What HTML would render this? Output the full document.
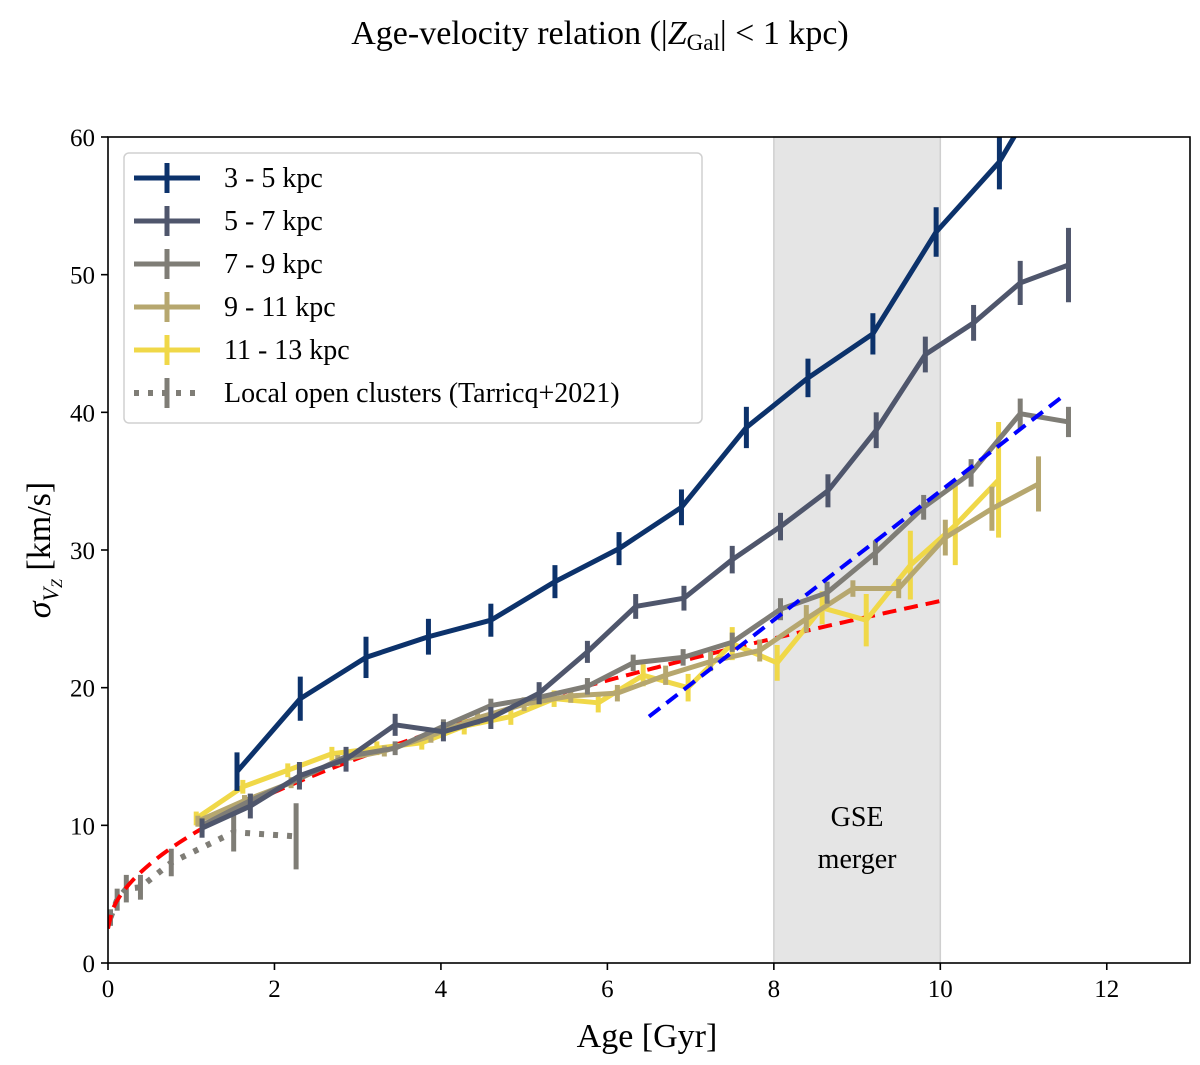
<!DOCTYPE html>
<html><head><meta charset="utf-8">
<style>
html,body{margin:0;padding:0;background:#fff;}
svg{display:block;font-family:"Liberation Serif","DejaVu Serif",serif;}
</style></head>
<body>
<svg id="chart" width="1200" height="1065" viewBox="0 0 1200 1065">
  <text x="600" y="44" text-anchor="middle" font-size="34">Age-velocity relation (|<tspan font-style="italic">Z</tspan><tspan font-size="23" dy="6">Gal</tspan><tspan dy="-6">| &lt; 1 kpc)</tspan></text>
  <defs><clipPath id="plotclip"><rect x="108" y="137" width="1082" height="826"/></clipPath></defs>
  <g id="bg"></g>
  <g id="marks" clip-path="url(#plotclip)"></g>
  <g id="axes"></g>
  <g id="legend"></g>
</svg>
<script>
// ---- data ----
const xTicks = [0, 2, 4, 6, 8, 10, 12];
const yTicks = [0, 10, 20, 30, 40, 50, 60];
const seriesNames = ["3 - 5 kpc", "5 - 7 kpc", "7 - 9 kpc", "9 - 11 kpc", "11 - 13 kpc"];
const seriesColors = ["#0c326b", "#4f566c", "#7f7d76", "#b6a76f", "#f0d848"];
const ageA = [1.55, 2.31, 3.10, 3.85, 4.60, 5.37, 6.14, 6.89, 7.67, 8.41, 9.19, 9.95, 10.71, 11.47];
const sigA = [13.9, 19.2, 22.2, 23.7, 24.9, 27.7, 30.1, 33.1, 38.9, 42.5, 45.7, 53.1, 58.2, 66.0];
const errA = [1.4, 1.6, 1.5, 1.3, 1.2, 1.2, 1.2, 1.3, 1.5, 1.4, 1.5, 1.8, 2.0, 2.2];
const ageB = [1.13, 1.71, 2.30, 2.86, 3.45, 4.03, 4.60, 5.18, 5.76, 6.34, 6.92, 7.50, 8.08, 8.65, 9.23, 9.82, 10.40, 10.96, 11.54];
const sigB = [9.8, 11.4, 13.6, 14.8, 17.3, 16.8, 17.8, 19.6, 22.6, 25.9, 26.5, 29.3, 31.7, 34.3, 38.7, 44.2, 46.5, 49.4, 50.7];
const errB = [0.7, 0.9, 1.0, 0.9, 0.8, 0.7, 0.8, 0.8, 0.8, 0.9, 0.9, 1.0, 1.0, 1.2, 1.3, 1.3, 1.3, 1.6, 2.7];
const ageC = [1.13, 1.71, 2.30, 2.86, 3.45, 4.03, 4.60, 5.18, 5.76, 6.31, 6.91, 7.50, 8.08, 8.64, 9.22, 9.80, 10.37, 10.96, 11.54];
const sigC = [10.0, 11.8, 13.4, 15.0, 15.6, 17.2, 18.7, 19.3, 20.1, 21.8, 22.2, 23.3, 25.7, 26.9, 29.8, 33.1, 35.6, 39.9, 39.3];
const errC = [0.5, 0.5, 0.5, 0.5, 0.5, 0.5, 0.5, 0.5, 0.6, 0.6, 0.6, 0.7, 0.8, 0.8, 0.9, 0.9, 1.0, 1.1, 1.1];
const ageD = [1.08, 1.64, 2.20, 2.76, 3.32, 3.88, 4.44, 5.00, 5.56, 6.12, 6.70, 7.24, 7.83, 8.39, 8.95, 9.50, 10.06, 10.62, 11.18];
const sigD = [10.3, 11.8, 13.1, 14.7, 15.4, 16.5, 17.8, 18.8, 19.4, 19.6, 20.9, 21.9, 22.7, 25.0, 27.2, 27.2, 30.9, 33.0, 34.8];
const errD = [0.4, 0.4, 0.4, 0.4, 0.4, 0.5, 0.5, 0.5, 0.5, 0.6, 0.7, 0.7, 0.8, 1.0, 0.6, 0.7, 1.3, 1.6, 2.0];
const ageE = [1.06, 1.62, 2.16, 2.69, 3.23, 3.77, 4.28, 4.84, 5.36, 5.89, 6.43, 6.97, 7.50, 8.04, 8.58, 9.11, 9.64, 10.18, 10.70];
const sigE = [10.5, 12.8, 14.0, 15.2, 15.6, 16.0, 17.2, 17.9, 19.2, 18.9, 20.9, 20.0, 23.2, 21.8, 25.8, 24.9, 28.9, 31.8, 35.1];
const errE = [0.5, 0.5, 0.5, 0.5, 0.5, 0.5, 0.6, 0.6, 0.6, 0.7, 0.8, 1.0, 1.2, 1.3, 1.2, 1.9, 2.5, 2.9, 4.2];
const ageOC = [0.03, 0.11, 0.22, 0.39, 0.76, 1.51, 2.26];
const sigOC = [3.3, 4.6, 5.4, 5.5, 7.3, 9.5, 9.2];
const errOC = [0.6, 0.8, 1.0, 0.9, 1.0, 1.4, 2.4];
const redFitOffset = [2.5];
const redFitAmp = [6.8];
const redFitExp = [0.544];
const redFitRange = [0.0, 10];
const blueFitAge = [6.5, 11.5];
const blueFitSig = [17.9, 41.3];
const gseRange = [8, 10];

// ---- axes ----
const X0 = 108, X1 = 1190, Y0 = 963, Y1 = 137;
const xs = v => X0 + (v / 13) * (X1 - X0);
const ys = v => Y0 - (v / 60) * (Y0 - Y1);
const NS = "http://www.w3.org/2000/svg";
function mk(tag, attrs, parent) {
  const e = document.createElementNS(NS, tag);
  for (const k in attrs) e.setAttribute(k, attrs[k]);
  parent.appendChild(e);
  return e;
}
const bg = document.getElementById("bg");
const marks = document.getElementById("marks");
const axes = document.getElementById("axes");
const legend = document.getElementById("legend");

const band = mk("rect", {x: xs(gseRange[0]), y: Y1, width: xs(gseRange[1]) - xs(gseRange[0]), height: Y0 - Y1, fill: "#e5e5e5", stroke: "#cfcfcf", "stroke-width": 1.5}, bg);


const gl1 = mk("text", {x: (xs(8) + xs(10)) / 2, y: 826, "text-anchor": "middle", "font-size": 28}, bg);
gl1.textContent = "GSE";


const gl2 = mk("text", {x: (xs(8) + xs(10)) / 2, y: 868, "text-anchor": "middle", "font-size": 28}, bg);
gl2.textContent = "merger";



function drawSeries(ages, sigs, errs, color, name, dash) {
  const g = mk("g", {}, marks);
  
  
  const pts = ages.map((a, i) => xs(a) + "," + ys(sigs[i])).join(" ");
  const attrs = {points: pts, fill: "none", stroke: color, "stroke-width": 5, "stroke-linejoin": "round"};
  if (dash) { attrs["stroke-dasharray"] = "5,9"; attrs["stroke-linecap"] = "butt"; attrs["stroke-width"] = 6; }
  const pl = mk("polyline", attrs, g);
  
  
  ages.forEach((a, i) => {
    const eb = mk("line", {x1: xs(a), x2: xs(a), y1: ys(sigs[i] - errs[i]), y2: ys(sigs[i] + errs[i]), stroke: color, "stroke-width": 5}, g);
    
    
  });
}
drawSeries(ageOC, sigOC, errOC, "#7f7d76", "open-clusters-series", true);

{
  const pts = [];
  for (let t = redFitRange[0]; t <= redFitRange[1] + 1e-9; t += 0.05) pts.push(xs(t) + "," + ys(redFitOffset[0] + redFitAmp[0] * Math.pow(t, redFitExp[0])));
  const r = mk("polyline", {points: pts.join(" "), fill: "none", stroke: "#ff0000", "stroke-width": 4, "stroke-dasharray": "14,8"}, marks);
  
  
}
const sAges = [ageA, ageB, ageC, ageD, ageE], sSigs = [sigA, sigB, sigC, sigD, sigE], sErrs = [errA, errB, errC, errD, errE];
for (let k = 4; k >= 0; k--) drawSeries(sAges[k], sSigs[k], sErrs[k], seriesColors[k], "series-" + seriesNames[k].replace(/ - /, "-").replace(/ /g, "-"), false);
{
  const b = mk("line", {x1: xs(blueFitAge[0]), y1: ys(blueFitSig[0]), x2: xs(blueFitAge[1]), y2: ys(blueFitSig[1]), stroke: "#0000ff", "stroke-width": 4, "stroke-dasharray": "14,8"}, marks);
  
  
}

const fr = mk("rect", {x: X0, y: Y1, width: X1 - X0, height: Y0 - Y1, fill: "none", stroke: "#000", "stroke-width": 1.6}, axes);


xTicks.forEach(v => {
  const t = mk("line", {x1: xs(v), x2: xs(v), y1: Y0, y2: Y0 + 7, stroke: "#000", "stroke-width": 1.6}, axes);
  
  
  const l = mk("text", {x: xs(v), y: Y0 + 34, "text-anchor": "middle", "font-size": 25}, axes);
  l.textContent = v;
  
  
});
yTicks.forEach(v => {
  const t = mk("line", {x1: X0 - 7, x2: X0, y1: ys(v), y2: ys(v), stroke: "#000", "stroke-width": 1.6}, axes);
  
  
  const l = mk("text", {x: X0 - 13, y: ys(v) + 9, "text-anchor": "end", "font-size": 25}, axes);
  l.textContent = v;
  
  
});
const xl = mk("text", {x: (X0 + X1) / 2 - 2, y: 1047, "text-anchor": "middle", "font-size": 34}, axes);
xl.textContent = "Age [Gyr]";


const yl = mk("text", {x: 0, y: 0, "text-anchor": "middle", "font-size": 34, transform: "translate(50,550) rotate(-90)"}, axes);
yl.innerHTML = '<tspan font-style="italic">σ</tspan><tspan font-style="italic" font-size="22" dy="8">V</tspan><tspan font-style="italic" font-size="16" dy="4">Z</tspan><tspan dy="-12"> [km/s]</tspan>';



const lb = mk("rect", {x: 124, y: 153, width: 578, height: 270, rx: 5, fill: "#fff", "fill-opacity": 0.85, stroke: "#d0d0d0", "stroke-width": 1.5}, legend);


const lNames = seriesNames.concat(["Local open clusters (Tarricq+2021)"]);
const lColors = seriesColors.concat(["#7f7d76"]);
lNames.forEach((n, i) => {
  const y = 178 + i * 43;
  const g = mk("g", {}, legend);
  
  
  const la = {x1: 134, x2: 200, y1: y, y2: y, stroke: lColors[i], "stroke-width": 5};
  if (i === 5) { la["stroke-dasharray"] = "5,9"; la["stroke-width"] = 6; }
  mk("line", la, g);
  mk("line", {x1: 167, x2: 167, y1: y - 15, y2: y + 15, stroke: lColors[i], "stroke-width": 5}, g);
  const t = mk("text", {x: 224, y: y + 9, "font-size": 28}, g);
  t.textContent = n;
});
</script>
</body></html>
